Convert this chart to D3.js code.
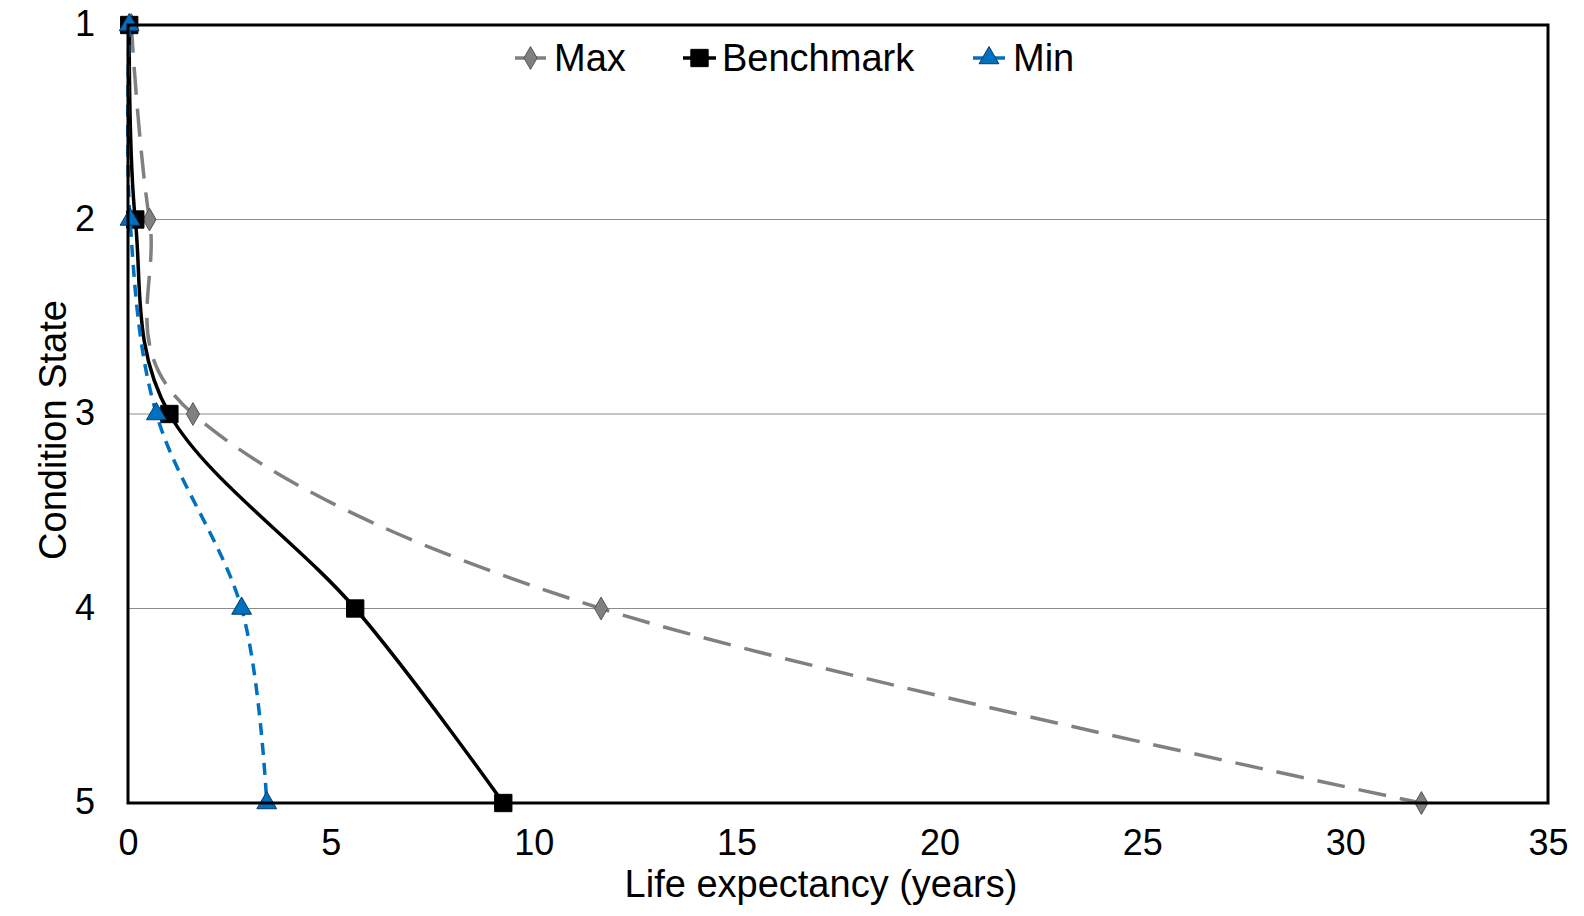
<!DOCTYPE html>
<html>
<head>
<meta charset="utf-8">
<script src="https://cdn.jsdelivr.net/npm/d3@7"></script>
<style>
  html, body { margin: 0; padding: 0; background: #fff; }
  svg { display: block; }
  text { font-family: "Liberation Sans", Arial, Helvetica, sans-serif; fill: #000; }
</style>
</head>
<body>
<svg id="chart" width="1584" height="916"></svg>
<script>
// ---- data ----
const states = [1, 2, 3, 4, 5];
const maxValues = [0.08, 0.53, 1.6, 11.66, 31.88];
const benchmarkValues = [0.03, 0.18, 1.02, 5.6, 9.25];
const minValues = [0.03, 0.05, 0.7, 2.8, 3.42];
const xTicks = [0, 5, 10, 15, 20, 25, 30, 35];
const yTicks = [1, 2, 3, 4, 5];
const seriesNames = ["Max", "Benchmark", "Min"];

// ---- layout ----
const svg = d3.select("#chart");
const L = 128, R = 1548, T = 25, B = 803;
const x = d3.scaleLinear().domain([0, 35]).range([L, R]);
const y = d3.scaleLinear().domain([1, 5]).range([T, B]);

const styles = {
  Max: { color: "#808080", width: 3.5, dash: "28,14", marker: d3.symbolDiamond, size: 150, fill: "#808080", stroke: "#555" },
  Benchmark: { color: "#000000", width: 3.5, dash: null, marker: d3.symbolSquare, size: 300, fill: "#000", stroke: "#000" },
  Min: { color: "#0070C0", width: 3.5, dash: "12,8", marker: d3.symbolTriangle, size: 170, fill: "#0070C0", stroke: "#0b3a66" }
};
const seriesData = { Max: maxValues, Benchmark: benchmarkValues, Min: minValues };

// gridlines
svg.append("g").selectAll("line").data(yTicks.filter(v => v > 1 && v < 5)).join("line")
  .attr("x1", L).attr("x2", R)
  .attr("y1", d => y(d)).attr("y2", d => y(d))
  .attr("stroke", "#8c8c8c").attr("stroke-width", 1);

// axes (tick labels only, via d3 axis)
const xAxis = svg.append("g").attr("transform", `translate(0,${B})`)
  .call(d3.axisBottom(x).tickValues(xTicks).tickSize(0).tickPadding(26).tickFormat(d3.format("d")));
xAxis.select(".domain").remove();
xAxis.selectAll("text").style("font-size", "36px").attr("dy", "0.71em").attr("fill", "#000");

const yAxis = svg.append("g").attr("transform", `translate(${L},0)`)
  .call(d3.axisLeft(y).tickValues(yTicks).tickSize(0).tickPadding(33).tickFormat(d3.format("d")));
yAxis.select(".domain").remove();
yAxis.selectAll("text").style("font-size", "36px").attr("dy", "0.3em").attr("fill", "#000");

// series
const line = d3.line().x(d => x(d.v)).y(d => y(d.s)).curve(d3.curveCatmullRom.alpha(0));
seriesNames.forEach(name => {
  const st = styles[name];
  const pts = states.map((s, i) => ({ s, v: seriesData[name][i] }));
  const g = svg.append("g");
  g.append("path").datum(pts).attr("d", line)
    .attr("fill", "none").attr("stroke", st.color).attr("stroke-width", st.width)
    .attr("stroke-dasharray", st.dash);
  g.selectAll("path.m").data(pts).join("path").attr("class", "m")
    .attr("transform", d => `translate(${x(d.v)},${y(d.s)})`)
    .attr("d", d3.symbol().type(st.marker).size(st.size))
    .attr("fill", st.fill).attr("stroke", st.stroke).attr("stroke-width", 1);
});

// plot border
svg.append("rect").attr("x", L).attr("y", T).attr("width", R - L).attr("height", B - T)
  .attr("fill", "none").attr("stroke", "#000").attr("stroke-width", 3);

// legend
const legendItems = [
  { name: "Max", x1: 515, x2: 546, text: 554 },
  { name: "Benchmark", x1: 683, x2: 716, text: 722 },
  { name: "Min", x1: 973, x2: 1005, text: 1013 }
];
const ly = 58;
legendItems.forEach(it => {
  const st = styles[it.name];
  svg.append("line").attr("x1", it.x1).attr("x2", it.x2).attr("y1", ly).attr("y2", ly)
    .attr("stroke", st.color).attr("stroke-width", st.width);
  svg.append("path").attr("transform", `translate(${(it.x1 + it.x2) / 2},${ly})`)
    .attr("d", d3.symbol().type(st.marker).size(st.size))
    .attr("fill", st.fill).attr("stroke", st.stroke).attr("stroke-width", 1);
  svg.append("text").attr("x", it.text).attr("y", ly).attr("dy", "0.35em")
    .style("font-size", "38px").text(it.name);
});

// axis titles
svg.append("text").attr("x", 821).attr("y", 897).attr("text-anchor", "middle")
  .style("font-size", "38px").text("Life expectancy (years)");
svg.append("text").attr("transform", "translate(66,430) rotate(-90)").attr("text-anchor", "middle")
  .style("font-size", "38px").text("Condition State");
</script>
</body>
</html>
